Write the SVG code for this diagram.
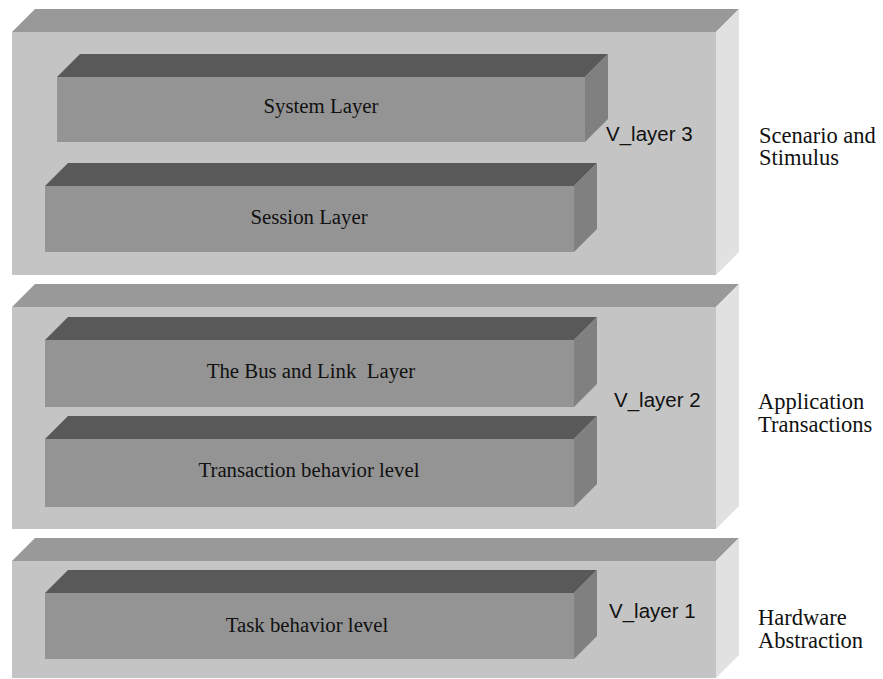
<svg xmlns="http://www.w3.org/2000/svg" width="883" height="679" viewBox="0 0 883 679">
  <style>
    .otop { fill: #999999; }
    .ofront { fill: #c4c4c4; }
    .oside { fill: #e1e1e1; }
    .itop { fill: #595959; }
    .ifront { fill: #949494; }
    .iside { fill: #808080; }
    .lbl { font-family: "Liberation Serif", "Times New Roman", serif; font-size: 20.8px; fill: #111111; text-anchor: middle; }
    .vl { font-family: "Liberation Sans", Arial, sans-serif; font-size: 20.5px; fill: #111111; }
    .side { font-family: "Liberation Serif", "Times New Roman", serif; font-size: 22.5px; fill: #111111; }
  </style>

  <!-- Layer 3 slab -->
  <g id="vlayer3">
    <polygon class="otop" points="12,32 35,9 739,9 716,32"/>
    <polygon class="oside" points="716,32 739,9 739,252 716,275"/>
    <rect class="ofront" x="12" y="32" width="704" height="243"/>
    <text class="vl" x="606" y="141">V_layer 3</text>
  </g>
  <g id="system-layer">
    <polygon class="itop" points="57,77 80,54 608,54 585,77"/>
    <polygon class="iside" points="585,77 608,54 608,119 585,142"/>
    <rect class="ifront" x="57" y="77" width="528" height="65"/>
    <text class="lbl" x="321" y="113">System Layer</text>
  </g>
  <g id="session-layer">
    <polygon class="itop" points="45,186 68,163 597,163 574,186"/>
    <polygon class="iside" points="574,186 597,163 597,229 574,252"/>
    <rect class="ifront" x="45" y="186" width="529" height="66"/>
    <text class="lbl" x="309" y="224">Session Layer</text>
  </g>

  <!-- Layer 2 slab -->
  <g id="vlayer2">
    <polygon class="otop" points="12,307 35,284 739,284 716,307"/>
    <polygon class="oside" points="716,307 739,284 739,506 716,529"/>
    <rect class="ofront" x="12" y="307" width="704" height="222"/>
    <text class="vl" x="614" y="407">V_layer 2</text>
  </g>
  <g id="bus-link-layer">
    <polygon class="itop" points="45,340 68,317 597,317 574,340"/>
    <polygon class="iside" points="574,340 597,317 597,384 574,407"/>
    <rect class="ifront" x="45" y="340" width="529" height="67"/>
    <text class="lbl" x="311" y="378" xml:space="preserve">The Bus and Link  Layer</text>
  </g>
  <g id="transaction-level">
    <polygon class="itop" points="45,439 68,416 597,416 574,439"/>
    <polygon class="iside" points="574,439 597,416 597,484 574,507"/>
    <rect class="ifront" x="45" y="439" width="529" height="68"/>
    <text class="lbl" x="309" y="477">Transaction behavior level</text>
  </g>

  <!-- Layer 1 slab -->
  <g id="vlayer1">
    <polygon class="otop" points="12,561 35,538 739,538 716,561"/>
    <polygon class="oside" points="716,561 739,538 739,655 716,678"/>
    <rect class="ofront" x="12" y="561" width="704" height="117"/>
    <text class="vl" x="609" y="618">V_layer 1</text>
  </g>
  <g id="task-level">
    <polygon class="itop" points="45,593 68,570 597,570 574,593"/>
    <polygon class="iside" points="574,593 597,570 597,636 574,659"/>
    <rect class="ifront" x="45" y="593" width="529" height="66"/>
    <text class="lbl" x="307" y="632">Task behavior level</text>
  </g>

  <!-- Side captions -->
  <g id="caption-scenario">
    <text class="side" x="759" y="143">Scenario and</text>
    <text class="side" x="759" y="165">Stimulus</text>
  </g>
  <g id="caption-application">
    <text class="side" x="758" y="409">Application</text>
    <text class="side" x="758" y="432">Transactions</text>
  </g>
  <g id="caption-hardware">
    <text class="side" x="758" y="625">Hardware</text>
    <text class="side" x="758" y="648">Abstraction</text>
  </g>

  <g id="connectors"/>
</svg>
